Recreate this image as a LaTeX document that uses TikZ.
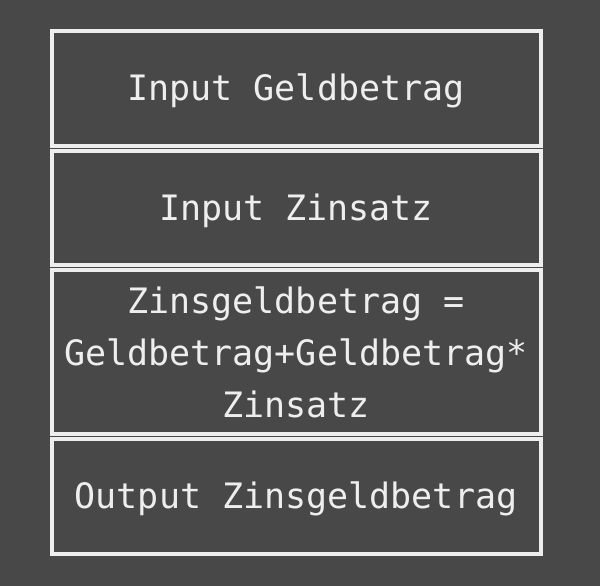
\documentclass[tikz,border=0pt]{standalone}
\usepackage{fontspec}
\setmonofont{DejaVu Sans Mono}
\definecolor{bgc}{HTML}{484848}
\definecolor{fgc}{HTML}{EEEEEE}
\begin{document}
\begin{tikzpicture}[x=1pt,y=-1pt,
  stepbox/.style={draw=fgc, line width=4pt, text=fgc, inner sep=0pt,
    minimum width=489pt, align=center,
    font=\ttfamily\fontsize{35}{52}\selectfont},
  oneline/.style={text height=26.5pt, text depth=2pt}]
\fill[bgc] (0,0) rectangle (600,586);
\useasboundingbox (0,0) rectangle (600,586);
\node[stepbox, oneline, minimum height=115pt] (b1) at (296,88.5) {Input Geldbetrag};
\node[stepbox, oneline, minimum height=114pt] (b2) at (296,208) {Input Zinsatz};
\node[stepbox, minimum height=164pt] (b3) at (296,352) {Zinsgeldbetrag =\\Geldbetrag+Geldbetrag*\\Zinsatz};
\node[stepbox, oneline, minimum height=115pt] (b4) at (296,496.5) {Output Zinsgeldbetrag};
\end{tikzpicture}
\end{document}
